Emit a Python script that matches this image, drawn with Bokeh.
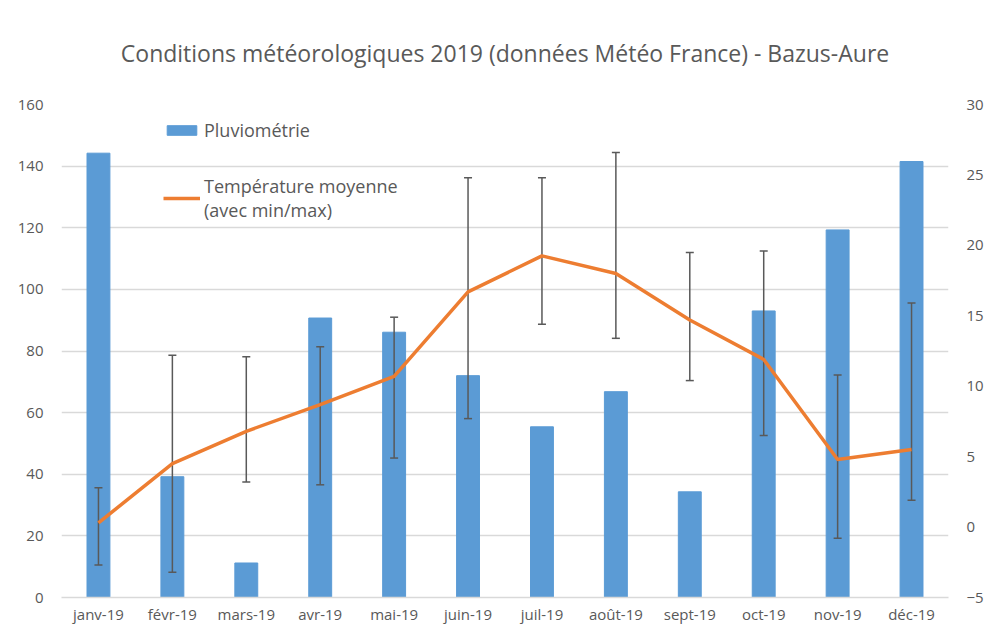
from bokeh.plotting import figure
from bokeh.models import (Range1d, LinearAxis, FactorRange, ColumnDataSource, Whisker,
                          Legend, LegendItem, FixedTicker, TeeHead)
from bokeh.embed import file_html
from bokeh.resources import INLINE

months = ["janv-19", "févr-19", "mars-19", "avr-19", "mai-19", "juin-19",
          "juil-19", "août-19", "sept-19", "oct-19", "nov-19", "déc-19"]
rain = [144.2, 39.2, 11.2, 90.7, 86.1, 72.0, 55.4, 66.8, 34.3, 93.0, 119.3, 141.5]
temp_mean = [0.3, 4.5, 6.8, 8.7, 10.7, 16.7, 19.25, 18.0, 14.7, 11.9, 4.8, 5.5]
temp_max = [2.8, 12.2, 12.1, 12.8, 14.9, 24.8, 24.8, 26.6, 19.5, 19.6, 10.8, 15.9]
temp_min = [-2.7, -3.2, 3.2, 3.0, 4.9, 7.7, 14.4, 13.4, 10.4, 6.5, -0.8, 1.9]
rain_ticks = [0, 20, 40, 60, 80, 100, 120, 140, 160]
temp_ticks = [-5, 0, 5, 10, 15, 20, 25, 30]

GREY = "#595959"
FONT = "Open Sans"

src = ColumnDataSource(dict(month=months, rain=rain, mean=temp_mean,
                            tmax=temp_max, tmin=temp_min))

p = figure(width=986, height=634, x_range=FactorRange(*months, range_padding=0),
           y_range=Range1d(0, 160), output_backend="svg", toolbar_location=None,
           min_border_left=61, min_border_right=36, min_border_top=104,
           min_border_bottom=37)
p.extra_y_ranges = {"temp": Range1d(-5, 30)}

p.title.text = "Conditions météorologiques 2019 (données Météo France) - Bazus-Aure"
p.title.align = "center"
p.title.vertical_align = "middle"
p.title.text_font = FONT
p.title.text_font_size = "23px"
p.title.text_font_style = "normal"
p.title.text_color = GREY
p.title.standoff = 70

p.outline_line_color = None
p.xgrid.grid_line_color = None
p.ygrid.grid_line_color = "#D9D9D9"
p.ygrid.grid_line_width = 1.3
p.yaxis.ticker = FixedTicker(ticks=rain_ticks)

bars = p.vbar(x="month", top="rain", width=0.31, source=src,
              fill_color="#5B9BD5", line_color="#5B9BD5")

whisk = Whisker(source=src, base="month", upper="tmax", lower="tmin",
                y_range_name="temp", line_color=GREY, line_width=1.5,
                upper_head=TeeHead(size=8, line_color=GREY, line_width=1.5),
                lower_head=TeeHead(size=8, line_color=GREY, line_width=1.5))
whisk.level = "annotation"
p.add_layout(whisk)

line = p.line(x="month", y="mean", source=src, y_range_name="temp",
              line_color="#ED7D31", line_width=3.5)
line.level = "overlay"

raxis = LinearAxis(y_range_name="temp", ticker=FixedTicker(ticks=temp_ticks))
p.add_layout(raxis, "right")

for ax in [p.yaxis[0], raxis]:
    ax.axis_line_color = None
    ax.major_label_standoff = 18

for ax in p.axis:
    ax.major_tick_line_color = None
    ax.minor_tick_line_color = None
    ax.major_tick_out = 0
    ax.major_tick_in = 0
    ax.major_label_text_font = FONT
    ax.major_label_text_font_size = "15px"
    ax.major_label_text_color = GREY

p.xaxis.axis_line_color = "#D9D9D9"
p.xaxis.axis_line_width = 1.3
p.xaxis.major_label_standoff = 6

legend = Legend(items=[LegendItem(label="Pluviométrie", renderers=[bars]),
                       LegendItem(label="Température moyenne\n(avec min/max)", renderers=[line])],
                location=(102, 375), orientation="vertical",
                border_line_color=None, background_fill_alpha=0,
                padding=0, margin=0, glyph_width=37, glyph_height=12,
                label_standoff=4, spacing=32,
                label_text_font=FONT, label_text_font_size="18px",
                label_text_color=GREY, label_text_line_height=1.4)
p.add_layout(legend)

open("out.html", "w").write(file_html(p, INLINE))
